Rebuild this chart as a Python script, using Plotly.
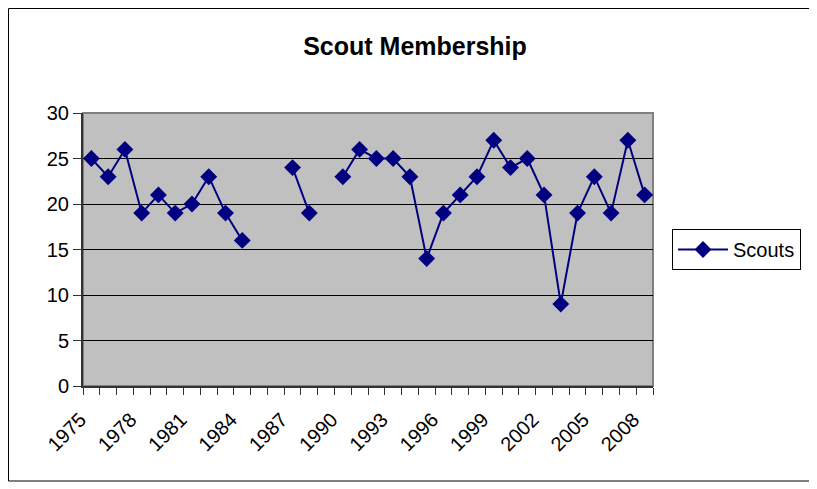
import plotly.graph_objects as go

years = list(range(1975, 2009))
scouts = [25, 23, 26, 19, 21, 19, 20, 23, 19, 16,
          None, None, 24, 19, None, 23, 26, 25, 25, 23,
          14, 19, 21, 23, 27, 24, 25, 21, 9, 19,
          23, 19, 27, 21]
label_years = [str(y) for y in years[::3]]
y_ticks = [0, 5, 10, 15, 20, 25, 30]

# page body has an 8px margin, so work in shifted coordinates
OFF = 8
W, H = 817 - OFF, 489 - OFF
L, R, T, B = 83 - OFF, 653 - OFF, 113 - OFF, 386 - OFF
pw, ph = R - L, B - T

def px(x):
    return (x - OFF - L) / pw

def py(y):
    return (B - (y - OFF)) / ph

idx = list(range(len(years)))
font = "Liberation Sans, Arial, sans-serif"

fig = go.Figure()
fig.add_trace(go.Scatter(
    x=idx, y=scouts, mode="lines+markers", name="Scouts",
    line=dict(color="#000080", width=2),
    marker=dict(symbol="diamond", size=13, color="#000080"),
    connectgaps=False,
))
# carrier trace for the label axis
fig.add_trace(go.Scatter(x=[-0.5, len(years) - 0.5], y=[0, 0], xaxis="x2",
                         mode="markers", marker=dict(opacity=0),
                         showlegend=False, hoverinfo="skip"))

fig.update_layout(
    width=W, height=H,
    margin=dict(l=L, r=W - R, t=T, b=H - B, pad=0),
    paper_bgcolor="white",
    plot_bgcolor="#C0C0C0",
    font=dict(family=font, size=20, color="black"),
    title=dict(text="<b>Scout Membership</b>", x=(415 - OFF) / W, xanchor="center",
               y=1 - (46 - OFF) / H, yanchor="middle", font=dict(size=25, family=font)),
    # main axis: tick marks on category boundaries
    xaxis=dict(range=[-0.5, len(years) - 0.5], tickmode="array",
               tickvals=[i - 0.5 for i in range(len(years) + 1)],
               showticklabels=False, ticks="outside", ticklen=7,
               tickcolor="#333333", tickwidth=1,
               showgrid=False, zeroline=False,
               showline=True, linecolor="#333333", linewidth=2),
    # label axis: rotated year labels every 3 categories
    xaxis2=dict(range=[-0.5, len(years) - 0.5], overlaying="x", side="bottom",
                tickmode="array", tickvals=idx[::3], ticktext=label_years,
                tickangle=-45, ticks="", showgrid=False, zeroline=False,
                showline=False, tickfont=dict(size=20),
                ticklabelstandoff=17, ticklabelshift=-11),
    yaxis=dict(range=[0, 30], tickmode="array", tickvals=y_ticks,
               ticks="outside", ticklen=8, tickcolor="#333333",
               showgrid=True, gridcolor="#000000", gridwidth=1,
               zeroline=False, showline=True, linecolor="#333333", linewidth=2,
               tickfont=dict(size=20)),
    legend=dict(x=px(672), y=py(249.5), xanchor="left", yanchor="middle",
                bordercolor="black", borderwidth=1, bgcolor="white",
                font=dict(size=20, family=font), itemwidth=50),
    showlegend=True,
    shapes=[
        dict(type="rect", xref="paper", yref="paper", x0=0, x1=1, y0=0, y1=1,
             line=dict(color="#808080", width=2), layer="below"),
        dict(type="rect", xref="paper", yref="paper",
             x0=px(8.5), x1=px(811), y0=py(481), y1=py(8.5),
             line=dict(color="black", width=1)),
    ],
)

fig.write_html("out.html")
